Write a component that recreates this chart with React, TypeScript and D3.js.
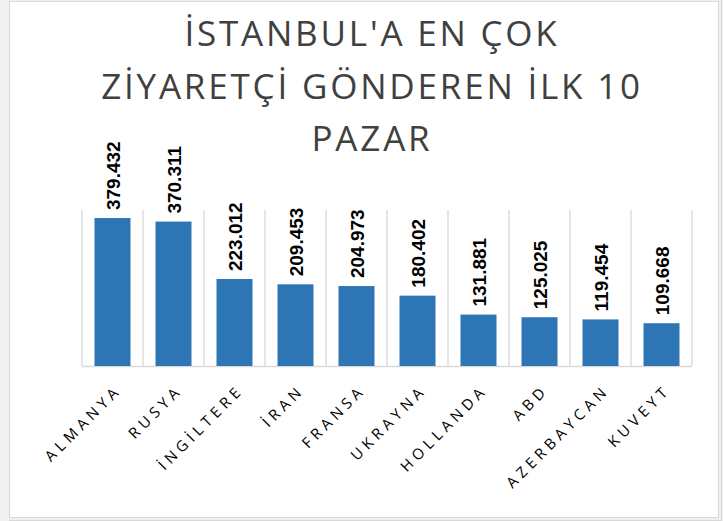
import React from 'react';
import * as d3 from 'd3';

const categories = ['ALMANYA', 'RUSYA', 'İNGİLTERE', 'İRAN', 'FRANSA', 'UKRAYNA', 'HOLLANDA', 'ABD', 'AZERBAYCAN', 'KUVEYT'];
const visitors = [379432, 370311, 223012, 209453, 204973, 180402, 131881, 125025, 119454, 109668];
const titleLines = ["İSTANBUL'A EN ÇOK", 'ZİYARETÇİ GÖNDEREN İLK 10', 'PAZAR'];
const yMax = 400000;

const W = 723;
const H = 521;

const trFormat = d3.formatLocale({ decimal: ',', thousands: '.', grouping: [3], currency: ['', ''] }).format(',');

export default function App() {
  const margin = { top: 210, right: 31, bottom: 155, left: 82 };

  const x = d3.scaleBand<string>()
    .domain(categories)
    .range([margin.left, W - margin.right])
    .paddingInner(0.41)
    .paddingOuter(0.205);

  const y = d3.scaleLinear()
    .domain([0, yMax])
    .range([H - margin.bottom, margin.top]);

  const step = x.step();
  const x0 = margin.left;
  const bounds = d3.range(categories.length + 1).map((i) => x0 + i * step);

  return (
    <svg width={W} height={H} style={{ position: 'absolute', left: 0, top: 0 }}>
      {/* frame */}
      <rect x={0} y={0} width={W} height={H} fill="#f0f0f0" />
      <rect x={9.5} y={1.5} width={709} height={516} fill="#fff" stroke="#d9d9d9" />
      <line x1={721.5} y1={0} x2={721.5} y2={520} stroke="#d9d9d9" />
      <line x1={9} y1={520.5} x2={722} y2={520.5} stroke="#d9d9d9" />

      {/* title */}
      <g fontFamily="'Open Sans', 'Noto Sans', sans-serif" fontSize={35} letterSpacing={2.8} fill="#404040" textAnchor="middle">
        {titleLines.map((t, i) => (
          <text key={t} x={372} y={46 + i * 52.5}>{t}</text>
        ))}
      </g>

      {/* category separators */}
      {bounds.map((b, i) => (
        <line key={i} x1={b} x2={b} y1={y(yMax)} y2={y(0)} stroke="#d9d9d9" strokeWidth={1.3} />
      ))}
      <line x1={x0} x2={W - margin.right} y1={y(0) + 0.5} y2={y(0) + 0.5} stroke="#d9d9d9" strokeWidth={1.5} />

      {/* bars */}
      {categories.map((c, i) => (
        <rect key={c} x={x(c)} y={y(visitors[i])} width={x.bandwidth()} height={y(0) - y(visitors[i])} fill="#2e75b6" />
      ))}

      {/* value labels */}
      <g fontFamily="'Liberation Sans', Arial, sans-serif" fontWeight="bold" fontSize={19} fill="#000">
        {categories.map((c, i) => {
          const cx = (x(c) ?? 0) + x.bandwidth() / 2 + 7;
          const cy = y(visitors[i]) - 8;
          return (
            <text key={c} transform={`translate(${cx},${cy}) rotate(-90)`}>{trFormat(visitors[i])}</text>
          );
        })}
      </g>

      {/* category labels */}
      <g fontFamily="'Open Sans', 'Noto Sans', sans-serif" fontSize={15} fill="#000" letterSpacing={4.5} textAnchor="end">
        {categories.map((c) => {
          const cx = (x(c) ?? 0) + x.bandwidth() / 2 + 10;
          return (
            <text key={c} transform={`translate(${cx},${391}) rotate(-45)`}>{c}</text>
          );
        })}
      </g>
    </svg>
  );
}
